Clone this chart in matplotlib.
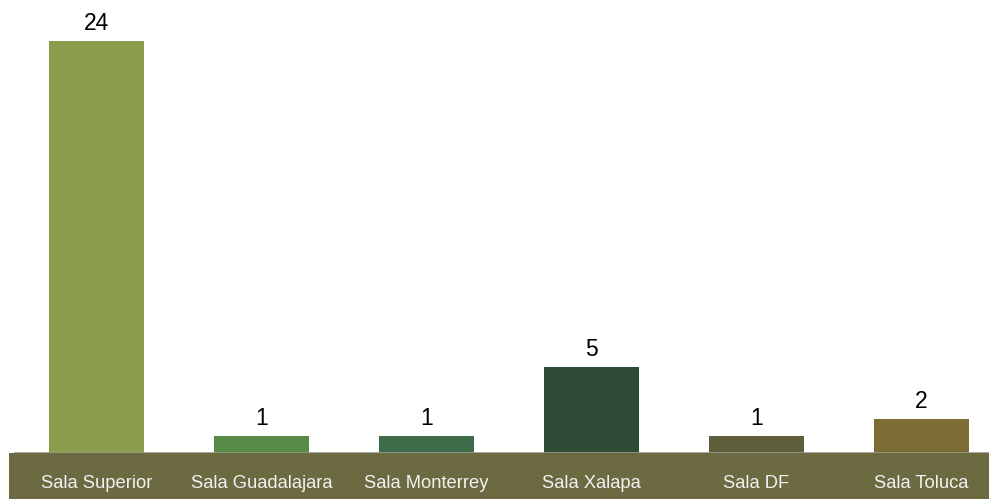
import matplotlib
matplotlib.use("Agg")
import matplotlib.pyplot as plt
from matplotlib.patches import Rectangle

categories = ["Sala Superior", "Sala Guadalajara", "Sala Monterrey", "Sala Xalapa", "Sala DF", "Sala Toluca"]
values = [24, 1, 1, 5, 1, 2]
colors = ["#8A9E4B", "#578A47", "#3E6B4A", "#2E4C36", "#5E5E3B", "#7B6D35"]

plt.rcParams['font.family'] = ['Liberation Sans', 'DejaVu Sans']

W, H = 989, 499
fig = plt.figure(figsize=(W / 100, H / 100), dpi=100)
band_h = 46
ax = fig.add_axes([9 / W, band_h / H, 980 / W, (H - band_h) / H])

x = list(range(len(categories)))
bars = ax.bar(x, values, width=95 / 165, color=colors, zorder=2)
ax.set_xlim((9 - 96.5) / 165, (989 - 96.5) / 165)
ax.set_ylim(0, 453 / 17.17)

for xi, v in zip(x, values):
    ax.annotate(str(v), (xi, v), xytext=(0, 4.3), textcoords="offset points",
                ha="center", va="bottom", fontsize=16.5, color="#000000")

for s in ["top", "right", "left", "bottom"]:
    ax.spines[s].set_visible(False)
ax.set_yticks([])
ax.set_xticks([])
ax.axhline(0, xmin=6 / 980, xmax=1, color="#9A9A8A", lw=1.2, zorder=3)

# label band
fig.patches.append(Rectangle((9 / W, 0), 980 / W, band_h / H, transform=fig.transFigure,
                             facecolor="#6C6A40", edgecolor="none", zorder=0))
for xi, c in zip(x, categories):
    xp = ax.transData.transform((xi, 0))[0] / W
    fig.text(xp, 11.5 / H, c, ha="center", va="baseline", color="#F2F2F2", fontsize=13.2)

fig.savefig("out.png", dpi=100)
